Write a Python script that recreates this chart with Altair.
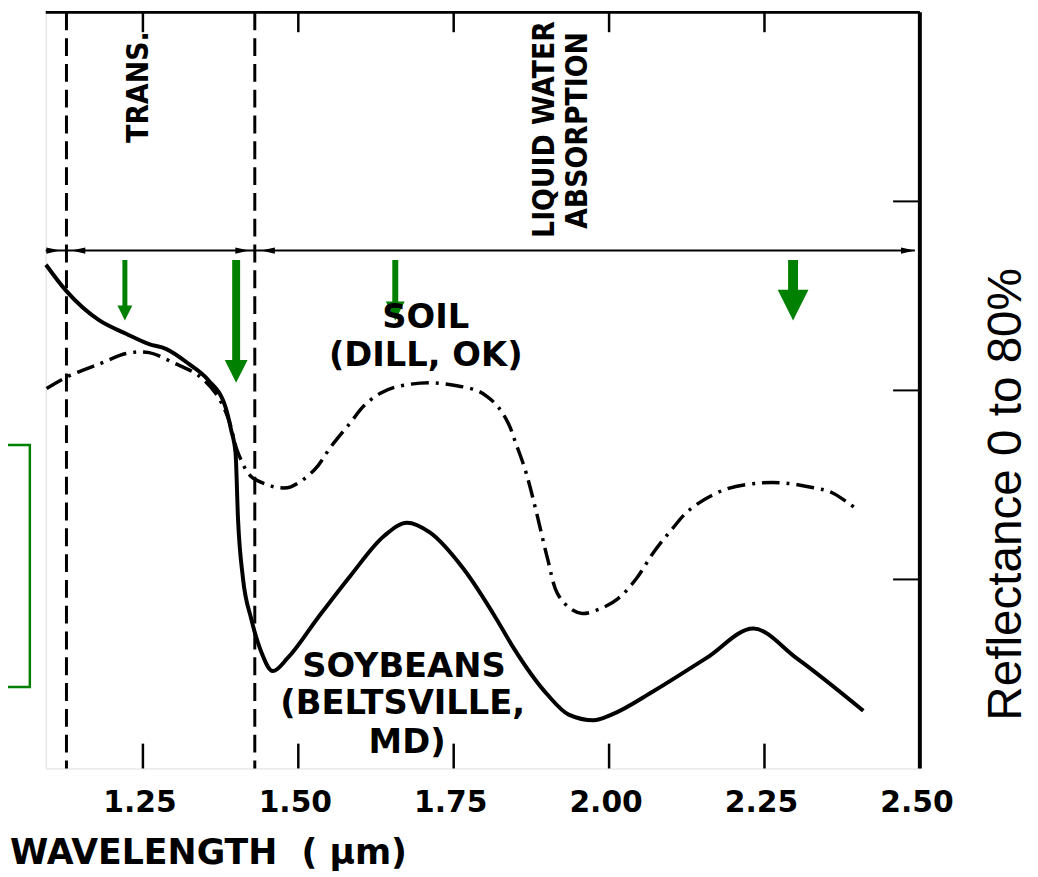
import altair as alt
import pandas as pd

# ---------------- data (wavelength in um, reflectance in %) ----------------
soy_w = [1.094, 1.127, 1.180, 1.223, 1.260, 1.287, 1.324, 1.355, 1.383, 1.392,
         1.399, 1.403, 1.411, 1.424, 1.440, 1.459, 1.483, 1.531, 1.584, 1.638,
         1.675, 1.711, 1.766, 1.818, 1.844, 1.901, 1.935, 1.975, 2.004, 2.072,
         2.157, 2.232, 2.301, 2.409]
soy_r = [53.3, 50.5, 47.4, 46.0, 44.9, 44.4, 42.8, 41.1, 38.2, 35.8,
         33.4, 26.4, 20.1, 15.9, 12.4, 10.3, 11.7, 15.9, 20.4, 24.6,
         26.0, 25.0, 21.1, 15.9, 13.0, 7.8, 5.7, 5.1, 5.7, 8.2,
         11.7, 14.8, 11.7, 6.1]

soil_w = [1.095, 1.127, 1.180, 1.223, 1.260, 1.300, 1.339, 1.367, 1.387, 1.403,
          1.424, 1.451, 1.470, 1.488, 1.526, 1.552, 1.584, 1.606, 1.632, 1.659,
          1.711, 1.755, 1.787, 1.805, 1.822, 1.838, 1.850, 1.866, 1.882, 1.901,
          1.917, 1.938, 1.957, 1.986, 2.015, 2.044, 2.072, 2.101, 2.130, 2.186,
          2.243, 2.283, 2.329, 2.358, 2.399]
soil_r = [40.2, 41.4, 42.8, 43.9, 44.0, 42.9, 41.6, 39.7, 37.1, 33.4,
          30.9, 30.0, 29.7, 29.8, 31.6, 34.0, 36.6, 38.4, 39.7, 40.4,
          40.8, 40.5, 40.0, 39.3, 38.2, 36.5, 34.4, 31.4, 27.4, 22.2,
          18.5, 16.9, 16.4, 16.9, 18.0, 20.1, 22.9, 25.3, 27.4, 29.5,
          30.2, 30.2, 29.7, 29.2, 27.4]

x_tick_values = [1.25, 1.50, 1.75, 2.00, 2.25, 2.50]
x_tick_labels = ["1.25", "1.50", "1.75", "2.00", "2.25", "2.50"]
y_tick_values = [20, 40, 60]
region_bounds = [1.127, 1.430]          # dashed region separators
band_level = 54.8                       # double-arrow line
band_start, band_end = 1.0936, 2.492
band_heads_right = [1.117, 1.421, 2.492]
band_heads_left = [1.135, 1.440]

arrow_w = [1.221, 1.400, 1.656, 2.296]  # green arrows
arrow_top = [53.8, 53.8, 53.8, 53.8]
arrow_tip = [47.4, 40.8, 47.4, 47.4]

rot_labels = ["TRANS.", "LIQUID WATER", "ABSORPTION"]
rot_w = [1.244, 1.897, 1.950]
rot_r = [72.1, 67.6, 67.5]

curve_labels = ["SOIL", "(DILL, OK)", "SOYBEANS", "(BELTSVILLE,", "MD)"]
curve_lab_w = [1.705, 1.705, 1.670, 1.668, 1.675]
curve_lab_r = [47.7, 43.6, 10.7, 6.8, 2.7]

# ---------------- layout ----------------
X_DOM = [1.0936, 2.5]
Y_DOM = [0, 80]
W, H = 881, 762
PX_X = W / (X_DOM[1] - X_DOM[0])
PX_Y = H / (Y_DOM[1] - Y_DOM[0])
GREEN = "#008000"

xs = alt.Scale(domain=X_DOM, nice=False, zero=False)
ys = alt.Scale(domain=Y_DOM, nice=False, zero=False)


def X(field="w", **kw):
    return alt.X(f"{field}:Q", scale=xs, axis=None, **kw)


def Y(field="r", **kw):
    return alt.Y(f"{field}:Q", scale=ys, axis=None, **kw)


soy_df = pd.DataFrame({"w": soy_w, "r": soy_r})
soil_df = pd.DataFrame({"w": soil_w, "r": soil_r})

x_axis = alt.Axis(values=x_tick_values, domain=True, domainColor="black",
                  domainWidth=3, ticks=False, grid=False, title=None, labels=False)

soy = alt.Chart(soy_df).mark_line(color="black", strokeWidth=4, interpolate="monotone").encode(
    x=alt.X("w:Q", scale=xs, axis=x_axis), y=Y())

soil = alt.Chart(soil_df).mark_line(color="black", strokeWidth=3.5, interpolate="catmull-rom",
                                    strokeDash=[18, 7, 3, 7]).encode(x=X(), y=Y())

# frame: top and right borders
top_border = alt.Chart(pd.DataFrame({"r": [Y_DOM[1]]})).mark_rule(
    color="black", strokeWidth=3).encode(y=Y())
right_border = alt.Chart(pd.DataFrame({"w": [X_DOM[1]]})).mark_rule(
    color="black", strokeWidth=4).encode(x=X())

# inward ticks
bt = pd.DataFrame({"w": x_tick_values[:-1]})
bt["r0"] = Y_DOM[0]
bt["r1"] = Y_DOM[0] + 25 / PX_Y
tt = pd.DataFrame({"w": x_tick_values[:-1]})
tt["r0"] = Y_DOM[1]
tt["r1"] = Y_DOM[1] - 20 / PX_Y
rt = pd.DataFrame({"r": y_tick_values})
rt["w0"] = X_DOM[1]
rt["w1"] = X_DOM[1] - 27 / PX_X
bottom_ticks = alt.Chart(bt).mark_rule(color="black", strokeWidth=2.5).encode(
    x=X(), y=Y("r0"), y2="r1:Q")
top_ticks = alt.Chart(tt).mark_rule(color="black", strokeWidth=2.5).encode(
    x=X(), y=Y("r0"), y2="r1:Q")
right_ticks = alt.Chart(rt).mark_rule(color="black", strokeWidth=2).encode(
    y=Y(), x=X("w0"), x2="w1:Q")

# tick labels
tl = pd.DataFrame({"w": x_tick_values, "t": x_tick_labels})
tl["r"] = Y_DOM[0] - 35 / PX_Y
tick_labels = alt.Chart(tl).mark_text(
    align="center", baseline="middle", dx=-3, fontSize=30, fontWeight="bold",
    font="DejaVu Sans", color="black").encode(x=X(), y=Y(), text="t:N")

# dashed region separators
seps = alt.Chart(pd.DataFrame({"w": region_bounds})).mark_rule(
    color="black", strokeWidth=3, strokeDash=[18, 8]).encode(x=X())

# double-arrow band line
band = alt.Chart(pd.DataFrame({"w0": [band_start], "w1": [band_end], "r": [band_level]})).mark_rule(
    color="black", strokeWidth=2).encode(x=X("w0"), x2="w1:Q", y=Y())
heads_r = alt.Chart(pd.DataFrame({"w": band_heads_right, "r": band_level})).mark_point(
    shape="M0,0L-2,-0.45L-2,0.45Z", filled=True, color="black", opacity=1, size=196,
    strokeWidth=0).encode(x=X(), y=Y())
heads_l = alt.Chart(pd.DataFrame({"w": band_heads_left, "r": band_level})).mark_point(
    shape="M0,0L2,-0.45L2,0.45Z", filled=True, color="black", opacity=1, size=196,
    strokeWidth=0).encode(x=X(), y=Y())

# green arrows
shaft_px = [5, 8, 6, 10]
head_px = [15, 23, 19, 31]
ga = pd.DataFrame({"w": arrow_w, "top": arrow_top, "tip": arrow_tip})
ga["sw"] = shaft_px
ga["hs"] = [h * h for h in head_px]
ga["base"] = [t + (h - 2) / PX_Y for t, h in zip(arrow_tip, head_px)]
shafts = alt.Chart(ga).mark_rule(color=GREEN, strokeCap="butt").encode(
    x=X(), y=Y("top"), y2="base:Q", size=alt.Size("sw:Q", scale=None))
heads = alt.Chart(ga).mark_point(shape="M-1,-2L1,-2L0,0Z", filled=True, color=GREEN,
                                 opacity=1, strokeWidth=0).encode(
    x=X(), y=Y("tip"), size=alt.Size("hs:Q", scale=None))

# green box at left edge (cut off)
box = alt.Chart(pd.DataFrame({"w0": [0.95], "w1": [X_DOM[0] - 16 / PX_X],
                              "r0": [(771 - 689) / PX_Y], "r1": [(771 - 445) / PX_Y]})).mark_rect(
    filled=False, color=GREEN, strokeWidth=2.5).encode(
    x=X("w0"), x2="w1:Q", y=Y("r0"), y2="r1:Q")

# texts
rot_df = pd.DataFrame({"t": rot_labels, "w": rot_w, "r": rot_r})
rot_text = alt.Chart(rot_df).mark_text(
    angle=270, align="center", baseline="middle", fontSize=30, fontWeight="bold", color="black",
    font="Liberation Sans Narrow, DejaVu Sans Condensed, Liberation Sans").encode(
    x=X(), y=Y(), text="t:N")

lab_df = pd.DataFrame({"t": curve_labels, "w": curve_lab_w, "r": curve_lab_r})
lab_text = alt.Chart(lab_df).mark_text(
    align="center", baseline="middle", fontSize=34, fontWeight="bold", color="black",
    font="DejaVu Sans").encode(x=X(), y=Y(), text="t:N")

xtitle = alt.Chart(pd.DataFrame({"t": ["WAVELENGTH\u00a0\u00a0(\u00a0\u03bcm)"], "w": [1.036],
                                 "r": [-9.0]})).mark_text(
    align="left", baseline="middle", fontSize=35, fontWeight="bold", color="black",
    font="DejaVu Sans").encode(x=X(), y=Y(), text="t:N")

ytitle = alt.Chart(pd.DataFrame({"t": ["Reflectance 0 to 80%"], "w": [2.6405], "r": [29.0]})).mark_text(
    angle=270, align="center", baseline="middle", fontSize=48, color="black",
    font="Liberation Sans").encode(x=X(), y=Y(), text="t:N")

chart = alt.layer(
    box, seps, band, heads_r, heads_l, top_border, right_border,
    bottom_ticks, top_ticks, right_ticks, tick_labels, soil, soy, shafts, heads,
    rot_text, lab_text, xtitle, ytitle,
).properties(
    width=W, height=H,
    autosize=alt.AutoSizeParams(type="none"),
    padding={"left": 38, "top": 1, "right": 111, "bottom": 106},
).configure_view(stroke=None).configure(background="white")

chart.save("out.html", embed_options={"renderer": "svg", "actions": False})
